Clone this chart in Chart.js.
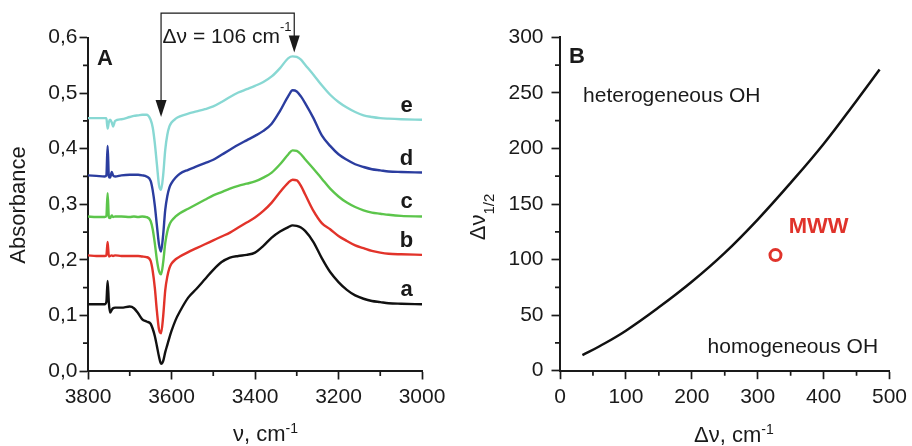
<!DOCTYPE html>
<html>
<head>
<meta charset="utf-8">
<script src="https://cdn.jsdelivr.net/npm/chart.js@4/dist/chart.umd.min.js"></script>
<style>
  body { margin: 0; background: #fff; }
  #wrap { position: relative; width: 912px; height: 446px; }
  canvas { position: absolute; top: 0; }
</style>
</head>
<body>
<div id="wrap">
  <canvas id="chartA" width="456" height="446" style="left:0"></canvas>
  <canvas id="chartB" width="456" height="446" style="left:456px"></canvas>
</div>
<script>
// ---- panel A: IR spectra ----
const wavenumbers = [3800, 3780, 3760, 3756, 3753, 3750, 3747, 3743, 3740, 3735, 3720, 3700, 3690, 3680, 3670, 3660,
  3650, 3645, 3640, 3635, 3630, 3625, 3620, 3615, 3610, 3605, 3600, 3590, 3580, 3560, 3540, 3520, 3500, 3480, 3460,
  3440, 3420, 3400, 3380, 3360, 3340, 3320, 3310, 3300, 3290, 3280, 3260, 3240, 3220, 3200, 3180, 3160, 3140, 3120,
  3100, 3080, 3050, 3000];

const absA = [.120, .120, .120, .124, .162, .122, .105, .110, .113, .114, .114, .116, .113, .104, .093, .089,
  .085, .076, .063, .045, .026, .013, .018, .034, .047, .060, .072, .092, .107, .132, .148, .165, .182, .196, .204,
  .207, .209, .213, .225, .240, .251, .259, .262, .261, .258, .252, .232, .203, .178, .160, .146, .136, .130, .126,
  .124, .122, .121, .120];
const absB = [.208, .207, .207, .208, .232, .206, .207, .208, .207, .208, .207, .207, .207, .207, .206, .205,
  .198, .180, .150, .108, .075, .068, .098, .145, .170, .185, .193, .201, .206, .214, .221, .228, .235, .242, .249,
  .258, .267, .276, .288, .303, .322, .339, .344, .343, .333, .318, .288, .266, .255, .243, .234, .226, .221, .216,
  .213, .211, .210, .209];
const absC = [.278, .277, .277, .279, .320, .276, .275, .280, .277, .278, .278, .277, .278, .277, .278, .277,
  .270, .255, .230, .200, .180, .174, .195, .230, .251, .263, .270, .278, .284, .292, .300, .308, .316, .322, .328,
  .333, .337, .341, .348, .357, .372, .390, .397, .396, .390, .381, .364, .346, .328, .314, .303, .295, .289, .285,
  .283, .281, .279, .278];
const absD = [.352, .351, .350, .352, .405, .350, .348, .358, .352, .350, .352, .353, .353, .353, .352, .350,
  .342, .325, .298, .262, .228, .215, .245, .290, .315, .330, .338, .348, .355, .362, .368, .374, .380, .389, .398,
  .407, .415, .423, .432, .445, .468, .495, .505, .503, .494, .482, .455, .424, .405, .390, .380, .372, .367, .363,
  .361, .359, .358, .357];
const absE = [.455, .455, .455, .455, .436, .448, .452, .447, .440, .450, .453, .457, .459, .460, .461, .461,
  .452, .438, .410, .372, .335, .326, .352, .398, .425, .440, .447, .454, .458, .463, .467, .471, .476, .484, .493,
  .501, .507, .513, .520, .530, .545, .563, .566, .565, .560, .551, .533, .514, .497, .484, .474, .466, .460, .457,
  .455, .454, .453, .452];

const seriesLabels = ['a', 'b', 'c', 'd', 'e'];
const seriesColors = ['#111111', '#e2332a', '#5cc54b', '#2b3d9f', '#88d8d3'];
const seriesValues = [absA, absB, absC, absD, absE];

const xTicksA = [3000, 3200, 3400, 3600, 3800];
const xMinorA = [3100, 3300, 3500, 3700];
const yTicksA = [0, 0.1, 0.2, 0.3, 0.4, 0.5, 0.6];
const yTickLabelsA = ['0,0', '0,1', '0,2', '0,3', '0,4', '0,5', '0,6'];
const yMinorA = [0.05, 0.15, 0.25, 0.35, 0.45, 0.55];

// shift arrows (OH band -> H-bonded band)
const shiftFrom = 3625, shiftTo = 3306;

// ---- panel B: correlation ----
const deltaNu = [34, 60, 100, 150, 200, 250, 300, 350, 400, 450, 485];
const halfWidth = [14, 22, 36, 57, 80, 106, 136, 169, 204, 243, 271];
const mwwDeltaNu = [327];
const mwwHalfWidth = [104];

const xTicksB = [0, 100, 200, 300, 400, 500];
const xMinorB = [50, 150, 250, 350, 450];
const yTicksB = [0, 50, 100, 150, 200, 250, 300];
const yMinorB = [25, 75, 125, 175, 225, 275];

const FONT = '"Liberation Sans", Arial, Helvetica, sans-serif';
const INK = '#1a1a1a';

const minorTicks = {
  id: 'minorTicks',
  afterDraw(chart, args, opts) {
    const { ctx, scales: { x, y } } = chart;
    ctx.save();
    ctx.strokeStyle = INK;
    ctx.lineWidth = 1.7;
    ctx.beginPath();
    opts.x.forEach(v => {
      const px = x.getPixelForValue(v);
      ctx.moveTo(px, x.top);
      ctx.lineTo(px, x.top + 5);
    });
    opts.y.forEach(v => {
      const py = y.getPixelForValue(v);
      ctx.moveTo(y.right, py);
      ctx.lineTo(y.right - 5, py);
    });
    ctx.stroke();
    ctx.restore();
  }
};

// draws a run of text pieces: [text, font, dy]
function drawRun(ctx, parts, x, y) {
  let cx = x;
  parts.forEach(([t, f, dy]) => {
    ctx.font = f;
    ctx.fillText(t, cx, y + dy);
    cx += ctx.measureText(t).width;
  });
  return cx - x;
}
function runWidth(ctx, parts) {
  let w = 0;
  parts.forEach(([t, f]) => { ctx.font = f; w += ctx.measureText(t).width; });
  return w;
}

function axisOpts(ticks, labels, fitKey, fitVal, pad) {
  return {
    type: 'linear',
    min: ticks[0],
    max: ticks[ticks.length - 1],
    afterBuildTicks: s => { s.ticks = ticks.map(v => ({ value: v })); },
    afterFit: s => { s[fitKey] = fitVal; },
    ticks: {
      color: INK,
      font: { family: FONT, size: 21 },
      padding: pad,
      maxRotation: 0,
      autoSkip: false,
      callback: (v, i) => labels[i]
    },
    grid: { drawOnChartArea: false, drawTicks: true, tickLength: 8.5, tickWidth: 1.7, tickColor: INK, color: INK },
    border: { display: true, color: INK, width: 2 }
  };
}

const annotA = {
  id: 'annotA',
  afterDraw(chart) {
    const { ctx, scales: { x, y } } = chart;
    ctx.save();
    ctx.fillStyle = INK;
    ctx.strokeStyle = INK;
    ctx.textBaseline = 'alphabetic';

    ctx.font = 'bold 22px ' + FONT;
    ctx.textAlign = 'left';
    ctx.fillText('A', 97, 65);

    ctx.textAlign = 'center';
    seriesLabels.forEach((lab, i) => {
      const vals = seriesValues[i];
      ctx.fillText(lab, x.getPixelForValue(3037), y.getPixelForValue(vals[vals.length - 1]) - 8);
    });

    // bracket with arrows
    const xl = x.getPixelForValue(shiftFrom), xr = x.getPixelForValue(shiftTo);
    const yl = y.getPixelForValue(0.457), yr = y.getPixelForValue(0.573);
    const yTop = y.getPixelForValue(0.644);
    ctx.lineWidth = 1.2;
    ctx.beginPath();
    ctx.moveTo(xl, yl - 16);
    ctx.lineTo(xl, yTop);
    ctx.lineTo(xr, yTop);
    ctx.lineTo(xr, yr - 16);
    ctx.stroke();
    [[xl, yl], [xr, yr]].forEach(([ax, ay]) => {
      ctx.beginPath();
      ctx.moveTo(ax - 5.5, ay - 17);
      ctx.lineTo(ax + 5.5, ay - 17);
      ctx.lineTo(ax, ay);
      ctx.closePath();
      ctx.fill();
    });
    ctx.textAlign = 'left';
    drawRun(ctx, [['\u0394\u03bd = 106 cm', '21px ' + FONT, 0], ['-1', '13px ' + FONT, -12]], xl + 1.5, 43);

    // axis titles
    drawRun(ctx, [['\u03bd, cm', '22px ' + FONT, 0], ['-1', '14px ' + FONT, -8]], 233, 441);
    ctx.translate(25, 205);
    ctx.rotate(-Math.PI / 2);
    ctx.textAlign = 'center';
    ctx.font = '22px ' + FONT;
    ctx.fillText('Absorbance', 0, 0);
    ctx.restore();
  }
};

const annotB = {
  id: 'annotB',
  afterDraw(chart) {
    const { ctx, scales: { x, y } } = chart;
    ctx.save();
    ctx.fillStyle = INK;
    ctx.textBaseline = 'alphabetic';
    ctx.textAlign = 'left';
    ctx.font = 'bold 22px ' + FONT;
    ctx.fillText('B', 113, 63);

    ctx.font = '21px ' + FONT;
    ctx.fillText('heterogeneous OH', x.getPixelForValue(35), y.getPixelForValue(242));
    ctx.fillText('homogeneous OH', x.getPixelForValue(224), y.getPixelForValue(16));

    ctx.fillStyle = '#e0332b';
    ctx.font = 'bold 22px ' + FONT;
    ctx.fillText('MWW', x.getPixelForValue(347), y.getPixelForValue(124));

    ctx.fillStyle = INK;
    drawRun(ctx, [['\u0394\u03bd, cm', '22px ' + FONT, 0], ['-1', '14px ' + FONT, -8]], 694 - 456, 442);

    const yParts = [['\u0394\u03bd', '22px ' + FONT, 0], ['1/2', '15px ' + FONT, 9]];
    const w = runWidth(ctx, yParts);
    ctx.translate(485 - 456, 217);
    ctx.rotate(-Math.PI / 2);
    drawRun(ctx, yParts, -w / 2, 0);
    ctx.restore();
  }
};

new Chart(document.getElementById('chartA'), {
  type: 'line',
  data: {
    datasets: seriesValues.map((vals, i) => ({
      label: seriesLabels[i],
      data: wavenumbers.map((v, k) => ({ x: v, y: vals[k] })),
      borderColor: seriesColors[i],
      borderWidth: 2.4,
      pointRadius: 0,
      cubicInterpolationMode: 'monotone',
      fill: false
    }))
  },
  options: {
    responsive: false,
    animation: false,
    layout: { padding: { left: 0, right: 34, top: 37.5, bottom: 0 } },
    plugins: {
      legend: { display: false },
      tooltip: { enabled: false },
      minorTicks: { x: xMinorA, y: yMinorA }
    },
    scales: {
      x: Object.assign(axisOpts(xTicksA, xTicksA.map(String), 'height', 75, 5), { reverse: true }),
      y: axisOpts(yTicksA, yTickLabelsA, 'width', 88, 2)
    }
  },
  plugins: [minorTicks, annotA]
});

new Chart(document.getElementById('chartB'), {
  type: 'scatter',
  data: {
    datasets: [
      {
        data: deltaNu.map((v, k) => ({ x: v, y: halfWidth[k] })),
        showLine: true,
        borderColor: '#111111',
        borderWidth: 2.5,
        pointRadius: 0,
        tension: 0.4
      },
      {
        data: mwwDeltaNu.map((v, k) => ({ x: v, y: mwwHalfWidth[k] })),
        pointRadius: 5.5,
        pointBorderWidth: 3,
        borderColor: '#e0332b',
        backgroundColor: 'rgba(255,255,255,0)'
      }
    ]
  },
  options: {
    responsive: false,
    animation: false,
    layout: { padding: { left: 0, right: 19, top: 37.3, bottom: 0 } },
    plugins: {
      legend: { display: false },
      tooltip: { enabled: false },
      minorTicks: { x: xMinorB, y: yMinorB }
    },
    scales: {
      x: axisOpts(xTicksB, xTicksB.map(String), 'height', 75.3, 5),
      y: axisOpts(yTicksB, yTicksB.map(String), 'width', 104, 8)
    }
  },
  plugins: [minorTicks, annotB]
});
</script>
</body>
</html>
